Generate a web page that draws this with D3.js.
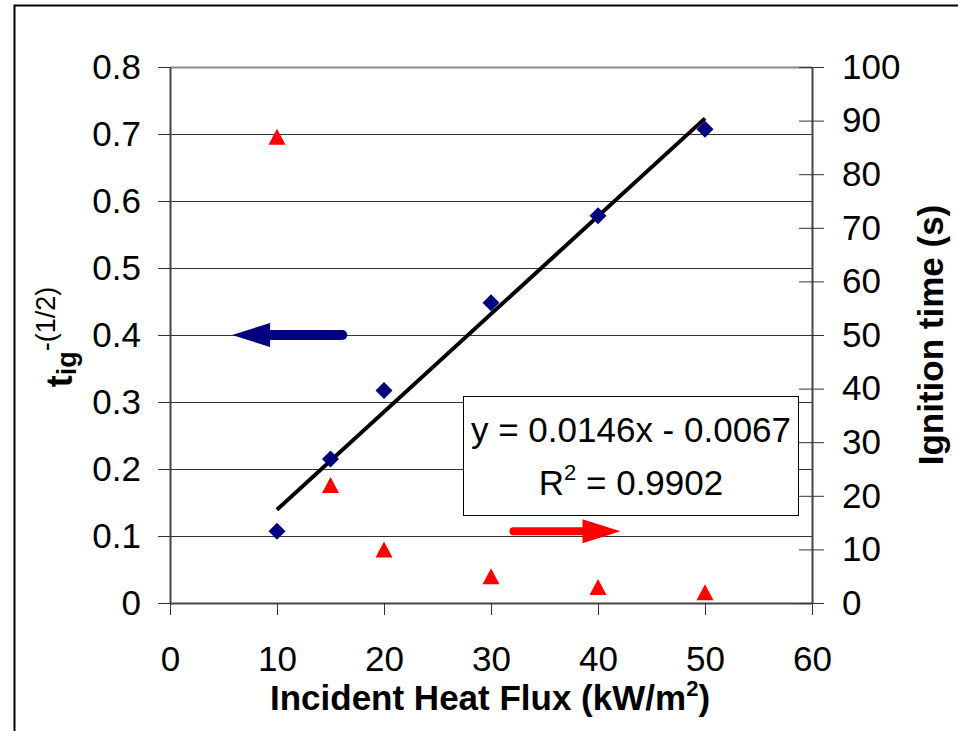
<!DOCTYPE html>
<html>
  <head>
    <meta charset="utf-8">
    <title>Ignition time vs heat flux</title>
    <script type="text/javascript" src="https://cdn.jsdelivr.net/npm/d3@7"></script>
    <style>
      body { margin: 0; background: #fff; }
      text { font-family: "Liberation Sans", Arial, sans-serif; fill: #000; }
    </style>
  </head>
  <body>
<script type="text/javascript">
// data
var flux = [10, 15, 20, 30, 40, 50];
var tigInvSqrt = [0.107, 0.215, 0.317, 0.448, 0.578, 0.707];
var ignitionTime = [87, 22, 10, 5, 3, 2];
var trendSlope = 0.0146, trendIntercept = -0.0067;
var trendLabel = ["y = 0.0146x - 0.0067", "R", "2", " = 0.9902"];

var xTicks = [0, 10, 20, 30, 40, 50, 60];
var leftTicks = [0, 0.1, 0.2, 0.3, 0.4, 0.5, 0.6, 0.7, 0.8];
var rightTicks = [0, 10, 20, 30, 40, 50, 60, 70, 80, 90, 100];

// annotation arrows (data units)
var blueArrow = {y: 0.4, from: 16.1, to: 5.8};
var redArrow = {y: 13.4, from: 32.1, to: 42.1};

var w = 958, h = 731;
var plotL = 170, plotR = 812, plotT = 67, plotB = 603;

var svg = d3.select("body").append("svg")
    .attr("width", w)
    .attr("height", h);

// outer frame (runs off the window on right and bottom)
svg.append("rect")
    .attr("x", 14.5).attr("y", 5.5)
    .attr("width", 960).attr("height", 740)
    .attr("fill", "none")
    .attr("stroke", "#000")
    .attr("stroke-width", 2);

var x = d3.scaleLinear().domain([0, 60]).range([plotL, plotR]);
var yL = d3.scaleLinear().domain([0, 0.8]).range([plotB, plotT]);
var yR = d3.scaleLinear().domain([0, 100]).range([plotB, plotT]);

// gridlines
svg.append("g").selectAll("line")
    .data(leftTicks.slice(1))
    .enter().append("line")
    .attr("x1", plotL).attr("x2", plotR)
    .attr("y1", function(d){ return Math.round(yL(d)) + 0.5; })
    .attr("y2", function(d){ return Math.round(yL(d)) + 0.5; })
    .attr("stroke", function(d){ return d === 0.8 ? "#888" : "#333"; })
    .attr("stroke-width", function(d){ return d === 0.8 ? 2 : 1; });

var xAxis = d3.axisBottom(x).tickValues(xTicks).tickSizeInner(12).tickSizeOuter(0).tickPadding(31);
var leftAxis = d3.axisLeft(yL).tickValues(leftTicks)
    .tickFormat(function(d){ return d === 0 ? "0" : d.toFixed(1); })
    .tickSizeInner(12).tickSizeOuter(0).tickPadding(17);
var rightAxis = d3.axisRight(yR).tickValues(rightTicks).tickSizeInner(12).tickSizeOuter(0).tickPadding(18);

function styleAxis(g) {
  g.select(".domain").attr("stroke", "#444").attr("stroke-width", 2);
  g.selectAll(".tick line").attr("stroke", "#333");
  g.selectAll(".tick text")
    .attr("font-size", 35)
    .attr("font-family", "Liberation Sans, Arial, sans-serif")
    .attr("fill", "#000");
}

svg.append("g").attr("transform", "translate(0," + plotB + ")").call(xAxis).call(styleAxis);
svg.append("g").attr("transform", "translate(" + plotL + ",0)").call(leftAxis).call(styleAxis);
var ra = svg.append("g").attr("transform", "translate(" + plotR + ",0)").call(rightAxis).call(styleAxis);
ra.selectAll(".tick line").attr("x1", -13);

// trendline
svg.append("line")
    .attr("x1", x(flux[0])).attr("y1", yL(trendSlope * flux[0] + trendIntercept))
    .attr("x2", x(flux[flux.length - 1])).attr("y2", yL(trendSlope * flux[flux.length - 1] + trendIntercept))
    .attr("stroke", "#000")
    .attr("stroke-width", 4);

// blue diamonds
svg.append("g").selectAll("path")
    .data(flux)
    .enter().append("path")
    .attr("transform", function(d, i){ return "translate(" + x(d) + "," + yL(tigInvSqrt[i]) + ")"; })
    .attr("d", "M0,-8.5L8.5,0L0,8.5L-8.5,0Z")
    .attr("fill", "#000080");

// red triangles
svg.append("g").selectAll("path")
    .data(flux)
    .enter().append("path")
    .attr("transform", function(d, i){ return "translate(" + x(d) + "," + yR(ignitionTime[i]) + ")"; })
    .attr("d", "M0,-8L8.5,8L-8.5,8Z")
    .attr("fill", "#ff0000");

// arrows
function arrow(a, yScale, color, shaft) {
  var y0 = yScale(a.y), x0 = x(a.from), x1 = x(a.to);
  var dir = x1 > x0 ? 1 : -1;
  var base = x1 - dir * 38;
  svg.append("line")
      .attr("x1", x0).attr("y1", y0).attr("x2", base).attr("y2", y0)
      .attr("stroke", color).attr("stroke-width", shaft)
      .attr("stroke-linecap", "round");
  svg.append("path")
      .attr("d", "M" + x1 + "," + y0 + "L" + base + "," + (y0 - 12) + "L" + base + "," + (y0 + 12) + "Z")
      .attr("fill", color);
}
arrow(blueArrow, yL, "#000080", 10);
arrow(redArrow, yR, "#ff0000", 8);

// equation box
svg.append("rect")
    .attr("x", 463.5).attr("y", 396.5)
    .attr("width", 335).attr("height", 119)
    .attr("fill", "#fff")
    .attr("stroke", "#000")
    .attr("stroke-width", 1);
svg.append("text")
    .attr("x", 631).attr("y", 442)
    .attr("text-anchor", "middle")
    .attr("font-size", 35)
    .text(trendLabel[0]);
var r2 = svg.append("text")
    .attr("x", 631).attr("y", 495)
    .attr("text-anchor", "middle")
    .attr("font-size", 35);
r2.append("tspan").text(trendLabel[1]);
r2.append("tspan").attr("dy", -15).attr("font-size", 22).text(trendLabel[2]);
r2.append("tspan").attr("dy", 15).text(trendLabel[3]);

// x title
var xt = svg.append("text")
    .attr("x", 490).attr("y", 710)
    .attr("text-anchor", "middle")
    .attr("font-size", 35)
    .attr("font-weight", "bold");
xt.append("tspan").text("Incident Heat Flux (kW/m");
xt.append("tspan").attr("dy", -14).attr("font-size", 22).text("2");
xt.append("tspan").attr("dy", 14).text(")");

// right title
svg.append("text")
    .attr("transform", "translate(943,335) rotate(-90)")
    .attr("text-anchor", "middle")
    .attr("font-size", 35)
    .attr("font-weight", "bold")
    .text("Ignition time (s)");

// left title
var lt = svg.append("text")
    .attr("transform", "translate(72,337) rotate(-90)")
    .attr("text-anchor", "middle")
    .attr("font-weight", "bold")
    .attr("font-size", 36);
lt.append("tspan").text("t");
lt.append("tspan").attr("dy", 4).attr("font-size", 27).text("ig");
lt.append("tspan").attr("dy", -21).attr("font-size", 27).attr("font-weight", "normal").text("-(1/2)");
</script>
  </body>
</html>
